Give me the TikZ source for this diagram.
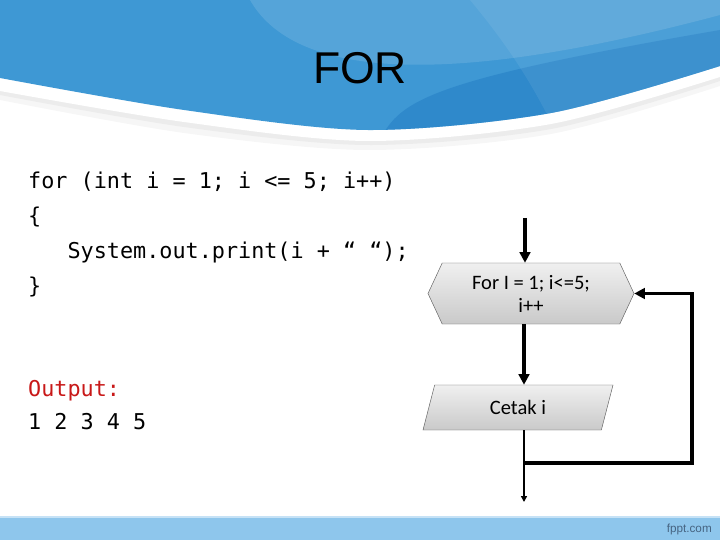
\documentclass[tikz,border=0pt]{standalone}
\usepackage{fontspec}
\newfontfamily\codefont{DejaVu Sans Mono}
\newfontfamily\flowfont{Carlito}
\newfontfamily\headfont{Liberation Sans}
\usetikzlibrary{positioning,shapes.symbols,shapes.geometric,arrows.meta}
\definecolor{hdblue}{RGB}{62,152,212}
\definecolor{hddark}{RGB}{38,128,198}
\definecolor{bandblue}{RGB}{142,198,236}
\definecolor{outred}{RGB}{200,24,24}
\definecolor{siteblue}{RGB}{70,100,130}

\begin{document}
\begin{tikzpicture}[x=0.03cm,y=-0.03cm,
    code/.style={anchor=base west,inner sep=0pt,font=\codefont\fontsize{18.6}{22}\selectfont},
    hexbox/.style={signal,signal to=west and east,signal pointer angle=130,
        draw=gray!75!black,top color=gray!12,bottom color=gray!42,
        minimum width=6.18cm,minimum height=1.83cm,inner sep=0pt,
        align=center,font=\flowfont\fontsize{17.5}{19.6}\selectfont},
    iobox/.style={trapezium,trapezium left angle=51,trapezium right angle=129,
        trapezium stretches body,draw=gray!75!black,top color=gray!12,bottom color=gray!42,
        minimum width=5.7cm,minimum height=1.35cm,inner sep=0pt,
        font=\flowfont\fontsize{17.5}{19.6}\selectfont},
    flow/.style={line width=2.6pt,-{Triangle[length=9pt,width=9pt]}},
    thinflow/.style={line width=1.3pt,-{Triangle[length=5pt,width=5pt]}}]
    \useasboundingbox (0,0) rectangle (720,540);

    % Шапка
    \fill[gray!7] plot[smooth] coordinates {(0,100) (184,133) (367,150) (551,134) (720,86)} -- (720,0) -- (0,0) -- cycle;
    \fill[gray!15] plot[smooth] coordinates {(0,95) (184,127) (367,145) (551,129) (720,81)} -- (720,0) -- (0,0) -- cycle;
    \fill[white] plot[smooth] coordinates {(0,91) (184,122) (367,141) (551,124) (720,77)} -- (720,0) -- (0,0) -- cycle;
    \begin{scope}
        \clip plot[smooth] coordinates {(0,78) (184,110) (367,130) (551,113) (720,66)} -- (720,0) -- (0,0) -- cycle;
        \fill[hdblue] (0,0) rectangle (720,140);
        \fill[hddark,opacity=0.6] (380,140) .. controls (400,100) and (430,80) .. (720,30) -- (720,140) -- cycle;
        \fill[white,opacity=0.12] (250,0) .. controls (290,70) and (420,95) .. (720,15) -- (720,0) -- cycle;
        \fill[white,opacity=0.07] (470,0) .. controls (520,60) and (540,100) .. (560,140) -- (720,140) -- (720,0) -- cycle;
    \end{scope}
    \node[anchor=base,inner sep=0pt,font=\headfont\fontsize{38}{40}\selectfont] (title) at (360,84) {FOR};

    % Подвал
    \fill[bandblue] (0,517) rectangle (720,540);
    \draw[white!50!bandblue,line width=1pt] (0,517) -- (720,517);
    \node[anchor=east,inner sep=0pt,text=siteblue,font=\headfont\fontsize{10}{12}\selectfont] (site) at (712,529) {fppt.com};

    % Код
    \node[code] (l1) at (28,189) {for (int i = 1; i <= 5; i++)};
    \node[code] (l2) at (28,224) {\{};
    \node[code] (l3) at (28,259) {\ \ \ System.out.print(i + “ “);};
    \node[code] (l4) at (28,294) {\}};
    \node[code,text=outred] (out) at (28,396) {Output:};
    \node[code] (res) at (28,430) {1 2 3 4 5};

    % Блок-схема
    \node[hexbox] (loop) at (531,293.5) {For I = 1; i<=5;\\i++};
    \node[iobox] (print) at (518,407.5) {Cetak i};
    \coordinate (start) at (525,218);
    \coordinate (stop) at (524,502);
    \coordinate (join) at (524,463);
    \coordinate (back) at (692,293.5);

    \draw[flow] (start) -- (start |- loop.north);
    \draw[flow] (loop.south -| stop) -- (print.north -| stop);
    \draw[thinflow] (print.south -| stop) -- (stop);
    \draw[flow] (join) -| (back) -- (loop.east);
\end{tikzpicture}
\end{document}
